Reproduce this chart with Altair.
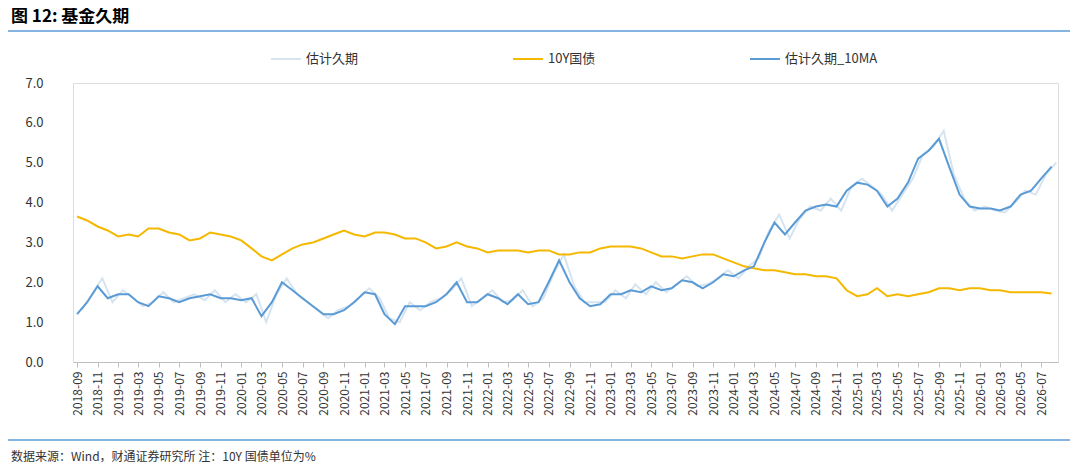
import pandas as pd
import altair as alt

months = pd.date_range("2018-09-01", "2026-08-01", freq="MS")

dur_ma = [1.2, 1.5, 1.9, 1.6,
          1.7, 1.7, 1.5, 1.4, 1.65, 1.6, 1.5, 1.6, 1.65, 1.7, 1.6, 1.6,
          1.55, 1.6, 1.15, 1.5, 2.0, 1.8, 1.6, 1.4, 1.2, 1.2, 1.3, 1.5,
          1.75, 1.7, 1.2, 0.95, 1.4, 1.4, 1.4, 1.5, 1.7, 2.0, 1.5, 1.5,
          1.7, 1.6, 1.45, 1.7, 1.45, 1.5, 2.0, 2.55, 2.0, 1.6, 1.4, 1.45,
          1.7, 1.7, 1.8, 1.75, 1.9, 1.8, 1.85, 2.05, 2.0, 1.85, 2.0, 2.2,
          2.15, 2.3, 2.4, 3.0, 3.5, 3.2, 3.5, 3.8, 3.9, 3.95, 3.9, 4.3,
          4.5, 4.45, 4.3, 3.9, 4.1, 4.5, 5.1, 5.3, 5.6, 4.9, 4.2, 3.9,
          3.85, 3.85, 3.8, 3.9, 4.2, 4.3, 4.6, 4.9]

dur_raw = [1.3, 1.7, 2.1, 1.5,
           1.8, 1.6, 1.4, 1.5, 1.75, 1.5, 1.6, 1.7, 1.55, 1.8, 1.5, 1.7,
           1.5, 1.7, 1.0, 1.7, 2.1, 1.7, 1.5, 1.3, 1.1, 1.3, 1.4, 1.6,
           1.85, 1.6, 1.1, 1.0, 1.5, 1.3, 1.5, 1.6, 1.8, 2.1, 1.4, 1.6,
           1.8, 1.5, 1.55, 1.8, 1.4, 1.6, 2.2, 2.7, 1.9, 1.5, 1.5, 1.5,
           1.8, 1.6, 1.95, 1.7, 2.0, 1.75, 1.95, 2.15, 1.9, 1.95, 2.1, 2.3,
           2.1, 2.4, 2.6, 3.3, 3.7, 3.1, 3.6, 3.9, 3.8, 4.1, 3.8, 4.4,
           4.6, 4.4, 4.2, 3.8, 4.2, 4.6, 5.2, 5.4, 5.8, 4.7, 4.1, 3.8,
           3.9, 3.8, 3.75, 4.0, 4.3, 4.2, 4.7, 5.0]

cgb10y = [3.65, 3.55, 3.4, 3.3,
          3.15, 3.2, 3.15, 3.35, 3.35, 3.25, 3.2, 3.05, 3.1, 3.25, 3.2, 3.15,
          3.05, 2.85, 2.65, 2.55, 2.7, 2.85, 2.95, 3.0, 3.1, 3.2, 3.3, 3.2,
          3.15, 3.25, 3.25, 3.2, 3.1, 3.1, 3.0, 2.85, 2.9, 3.0, 2.9, 2.85,
          2.75, 2.8, 2.8, 2.8, 2.75, 2.8, 2.8, 2.7, 2.7, 2.75, 2.75, 2.85,
          2.9, 2.9, 2.9, 2.85, 2.75, 2.65, 2.65, 2.6, 2.65, 2.7, 2.7, 2.6,
          2.5, 2.4, 2.35, 2.3, 2.3, 2.25, 2.2, 2.2, 2.15, 2.15, 2.1, 1.8,
          1.65, 1.7, 1.85, 1.65, 1.7, 1.65, 1.7, 1.75, 1.85, 1.85, 1.8, 1.85,
          1.85, 1.8, 1.8, 1.75, 1.75, 1.75, 1.75, 1.72]

names = ["估计久期", "10Y国债", "估计久期_10MA"]
colors = ["#d6e4f0", "#f5b800", "#5b9bd5"]

raw_df = pd.DataFrame({"date": months + pd.Timedelta(days=14), "value": dur_raw, "series": names[0]})
bond_df = pd.DataFrame({"date": months, "value": cgb10y, "series": names[1]})
ma_df = pd.DataFrame({"date": months, "value": dur_ma, "series": names[2]})
df = pd.concat([raw_df, bond_df, ma_df])

W, H = 985, 279
FONT = "Noto Sans CJK SC"
tick_vals = [d.isoformat() for d in pd.date_range("2018-09-01", "2026-07-01", freq="2MS")]

lines = alt.Chart(df).mark_line(strokeWidth=2, clip=False).encode(
    x=alt.X("date:T", scale=alt.Scale(domain=["2018-08-20", "2026-08-20"]),
            axis=alt.Axis(values=tick_vals, format="%Y-%m", labelAngle=270, title=None,
                          grid=False, domainColor="#bfbfbf", tickColor="#bfbfbf",
                          labelFontSize=12, labelColor="#333", labelPadding=4)),
    y=alt.Y("value:Q", scale=alt.Scale(domain=[0, 7]),
            axis=alt.Axis(values=[0, 1, 2, 3, 4, 5, 6, 7], format=".1f", title=None,
                          grid=False, domain=False, ticks=False, labelFontSize=13,
                          labelColor="#333", labelPadding=30)),
    color=alt.Color("series:N", sort=names,
                    scale=alt.Scale(domain=names, range=colors),
                    legend=alt.Legend(orient="none", legendX=197, legendY=-40, direction="horizontal",
                                      title=None, symbolType="stroke", symbolSize=900,
                                      symbolStrokeWidth=2, labelFontSize=13, labelColor="#333",
                                      columnPadding=150, labelFont=FONT)),
    order=alt.Order("series_order:Q"),
).transform_calculate(
    series_order="datum.series == '估计久期' ? 0 : (datum.series == '10Y国债' ? 1 : 2)"
)

title = alt.Chart(pd.DataFrame({"t": ["图 12:  基金久期"]})).mark_text(
    align="left", baseline="middle", fontSize=17, fontWeight="bold", font=FONT, color="#000"
).encode(x=alt.value(-62), y=alt.value(-66), text="t:N")

footer = alt.Chart(pd.DataFrame({"t": ["数据来源：Wind，财通证券研究所  注：10Y 国债单位为%"]})).mark_text(
    align="left", baseline="middle", fontSize=12, font=FONT, color="#333"
).encode(x=alt.value(-62), y=alt.value(H + 95), text="t:N")

rule_top = alt.Chart(pd.DataFrame({"a": [0]})).mark_rule(color="#5b9bd5", strokeWidth=1.5).encode(
    x=alt.value(-65), x2=alt.value(W + 12), y=alt.value(-52))
rule_bot = alt.Chart(pd.DataFrame({"a": [0]})).mark_rule(color="#5b9bd5", strokeWidth=1.5).encode(
    x=alt.value(-65), x2=alt.value(W + 12), y=alt.value(H + 78))

chart = alt.layer(lines, title, footer, rule_top, rule_bot).properties(
    width=W, height=H, autosize=alt.AutoSizeParams(type="none"),
    padding={"left": 65, "top": 75, "right": 14, "bottom": 100},
).configure_view(strokeWidth=0).configure(font=FONT)

chart.save("out.html", embed_options={"renderer": "svg", "actions": False})
